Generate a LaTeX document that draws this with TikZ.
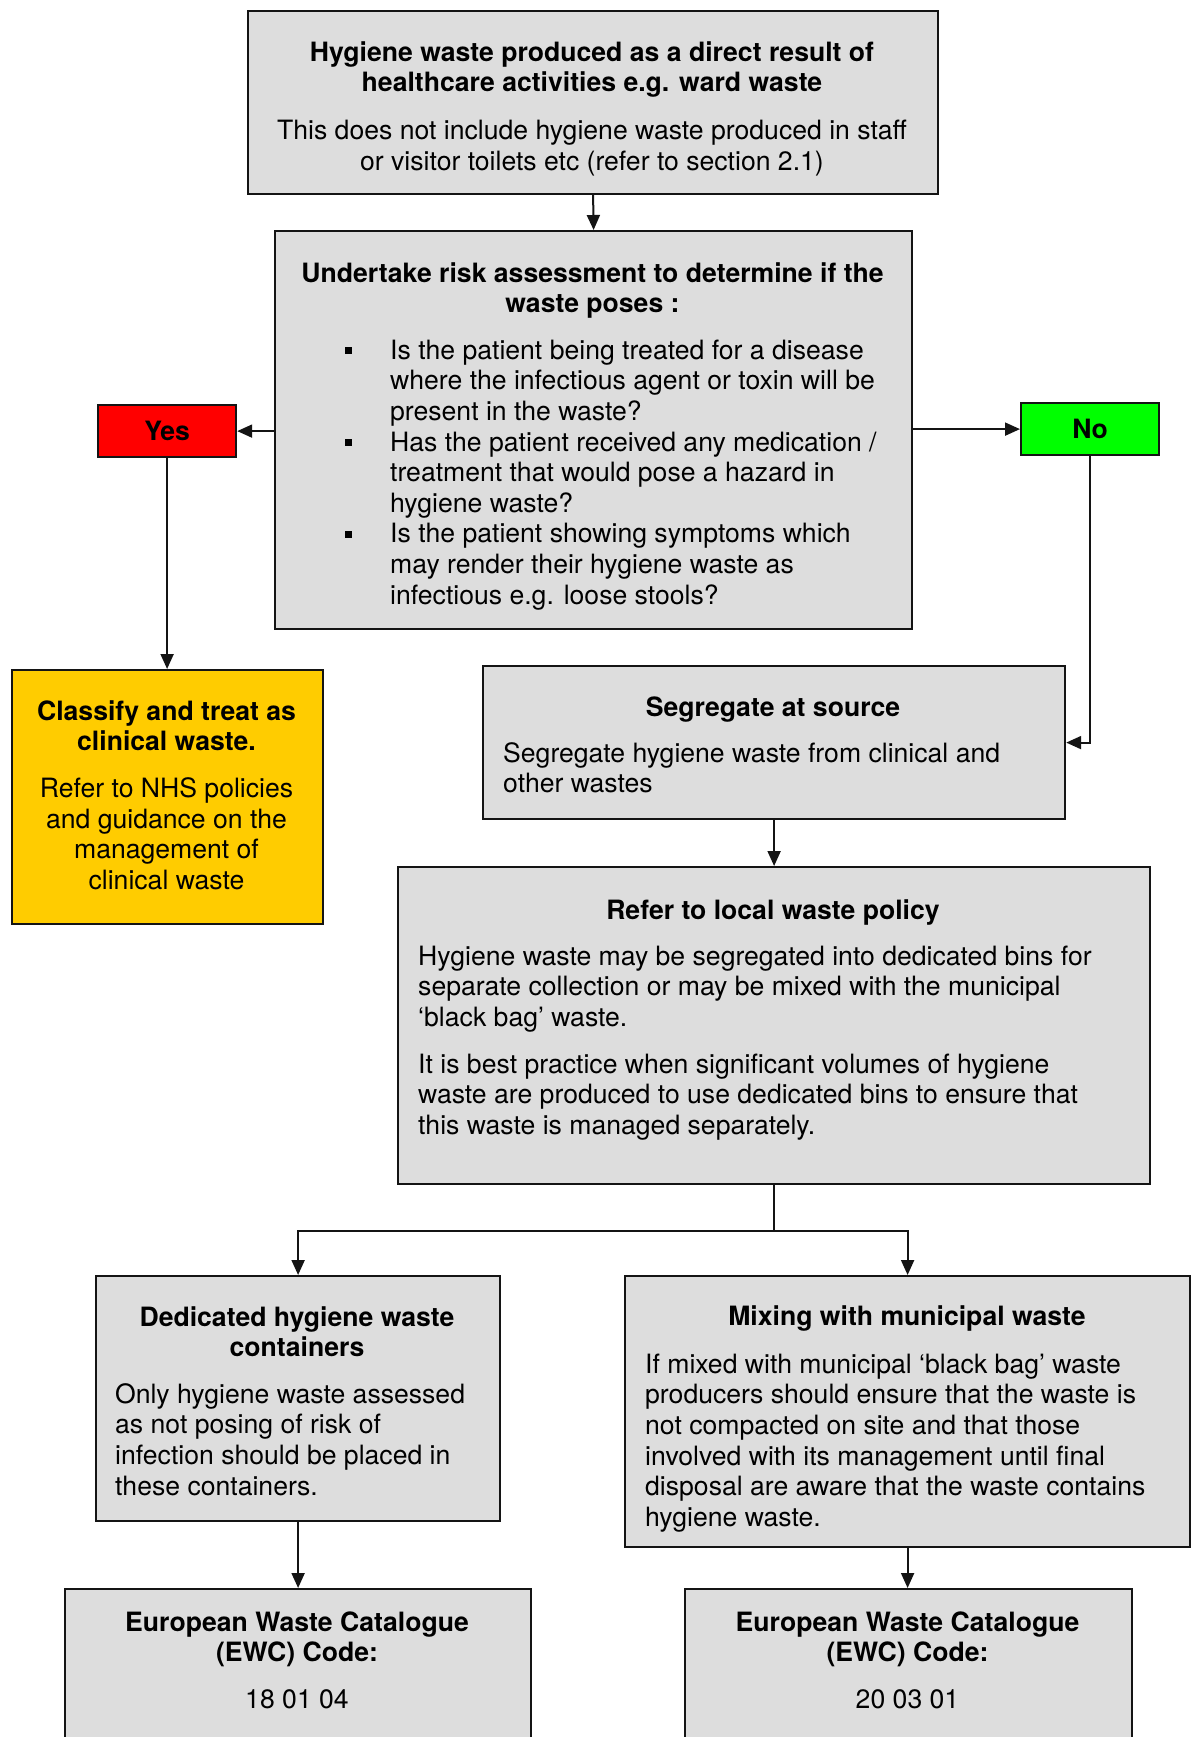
\documentclass[tikz,border=0pt]{standalone}
\usepackage{fontspec}
\setmainfont{TeX Gyre Heros}
\usetikzlibrary{arrows.meta}
\definecolor{boxgray}{RGB}{221,221,221}
\definecolor{classyellow}{RGB}{255,204,0}
\definecolor{yesred}{RGB}{255,0,0}
\definecolor{nogreen}{RGB}{0,255,0}
\definecolor{edge}{RGB}{20,20,20}
\newcommand\bodysize{\fontsize{26.6}{30.6}\selectfont}
\newcommand\sstrut{\rule{0pt}{21pt}}
\begin{document}
\begin{tikzpicture}[x=1pt,y=-1pt,
  box/.style={draw=edge, line width=2.2pt, fill=boxgray, anchor=north west, inner sep=0pt},
  ctxt/.style={font=\bodysize, inner sep=0pt, anchor=north, align=center},
  ltxt/.style={font=\bodysize, inner sep=0pt, anchor=north west, align=left},
  arr/.style={draw=edge, line width=2pt, -{Triangle[length=15pt,width=13pt]}},
  link/.style={draw=edge, line width=2pt}]
\useasboundingbox (0,0) rectangle (1191,1737);
\clip (0,0) rectangle (1191,1737);
\fill[white] (0,0) rectangle (1191,1737);

% boxes
\node[box, minimum width=690pt, minimum height=183pt] (top) at (247,10) {};
\node[box, minimum width=637pt, minimum height=398pt] (risk) at (274,230) {};
\node[box, fill=yesred, minimum width=138pt, minimum height=52pt, font=\bodysize\bfseries] (yes) at (97,404) {Yes};
\node[box, fill=nogreen, minimum width=138pt, minimum height=52pt, font=\bodysize\bfseries] (no) at (1020,402) {No};
\node[box, fill=classyellow, minimum width=311pt, minimum height=254pt] (classify) at (11,669) {};
\node[box, minimum width=582pt, minimum height=153pt] (seg) at (482,665) {};
\node[box, minimum width=752pt, minimum height=317pt] (refer) at (397,866) {};
\node[box, minimum width=404pt, minimum height=245pt] (ded) at (95,1275) {};
\node[box, minimum width=565pt, minimum height=271pt] (mix) at (624,1275) {};
\node[box, minimum width=466pt, minimum height=180pt] (ewca) at (64,1588) {};
\node[box, minimum width=447pt, minimum height=180pt] (ewcb) at (684,1588) {};

% texts
\node[ctxt] (toptext) at (592,40) {\sstrut\textbf{Hygiene waste produced as a direct result of}\\
  \textbf{healthcare activities e.g. ward waste}\\[17pt]
  This does not include hygiene waste produced in staff\\
  or visitor toilets etc (refer to section 2.1)};

\node[ctxt] (risktitle) at (592.5,261) {\sstrut\textbf{Undertake risk assessment to determine if the}\\
  \textbf{waste poses :}};
\node[ltxt] (risklist) at (390,338) {\sstrut Is the patient being treated for a disease\\
  where the infectious agent or toxin will be\\
  present in the waste?\\
  Has the patient received any medication /\\
  treatment that would pose a hazard in\\
  hygiene waste?\\
  Is the patient showing symptoms which\\
  may render their hygiene waste as\\
  infectious e.g. loose stools?};
\foreach \b in {359,450.8,542.6}
  \fill[black] (345,\b-12) rectangle (352,\b-5);

\node[ctxt] (classtext) at (166.5,699) {\sstrut\textbf{Classify and treat as}\\
  \textbf{clinical waste.}\\[16pt]
  Refer to NHS policies\\
  and guidance on the\\
  management of\\
  clinical waste};

\node[ctxt] (segtitle) at (773,695) {\sstrut\textbf{Segregate at source}};
\node[ltxt] (segtext) at (503,741) {\sstrut Segregate hygiene waste from clinical and\\
  other wastes};

\node[ctxt] (refertitle) at (773,898) {\sstrut\textbf{Refer to local waste policy}};
\node[ltxt] (refertext) at (418,944) {\sstrut Hygiene waste may be segregated into dedicated bins for\\
  separate collection or may be mixed with the municipal\\
  ‘black bag’ waste.\\[16pt]
  It is best practice when significant volumes of hygiene\\
  waste are produced to use dedicated bins to ensure that\\
  this waste is managed separately.};

\node[ctxt] (dedtitle) at (297,1305) {\sstrut\textbf{Dedicated hygiene waste}\\
  \textbf{containers}};
\node[ltxt] (dedtext) at (115,1382) {\sstrut Only hygiene waste assessed\\
  as not posing of risk of\\
  infection should be placed in\\
  these containers.};

\node[ctxt] (mixtitle) at (907,1304) {\sstrut\textbf{Mixing with municipal waste}};
\node[ltxt] (mixtext) at (645,1352) {\sstrut If mixed with municipal ‘black bag’ waste\\
  producers should ensure that the waste is\\
  not compacted on site and that those\\
  involved with its management until final\\
  disposal are aware that the waste contains\\
  hygiene waste.};

\node[ctxt] (ewcatext) at (297,1610) {\sstrut\textbf{European Waste Catalogue}\\
  \textbf{(EWC) Code:}\\[16pt]
  18 01 04};
\node[ctxt] (ewcbtext) at (907.5,1610) {\sstrut\textbf{European Waste Catalogue}\\
  \textbf{(EWC) Code:}\\[16pt]
  20 03 01};

% connectors
\draw[arr] (top.south) -- (risk.north);
\draw[arr] (yes.east -| risk.west) -- (yes.east);
\draw[arr] (no.west -| risk.east) -- (no.west);
\draw[arr] (yes.south) -- (yes.south |- classify.north);
\draw[arr] (no.south) |- (seg.east);
\draw[arr] (seg.south) -- (refer.north);
\path (refer.south) ++(0,46) coordinate (split);
\draw[link] (refer.south) -- (split);
\draw[arr] (split) -| (ded.north);
\draw[arr] (split) -| (mix.north);
\draw[arr] (ded.south) -- (ewca.north);
\draw[arr] (mix.south) -- (mix.south |- ewcb.north);
\end{tikzpicture}
\end{document}
